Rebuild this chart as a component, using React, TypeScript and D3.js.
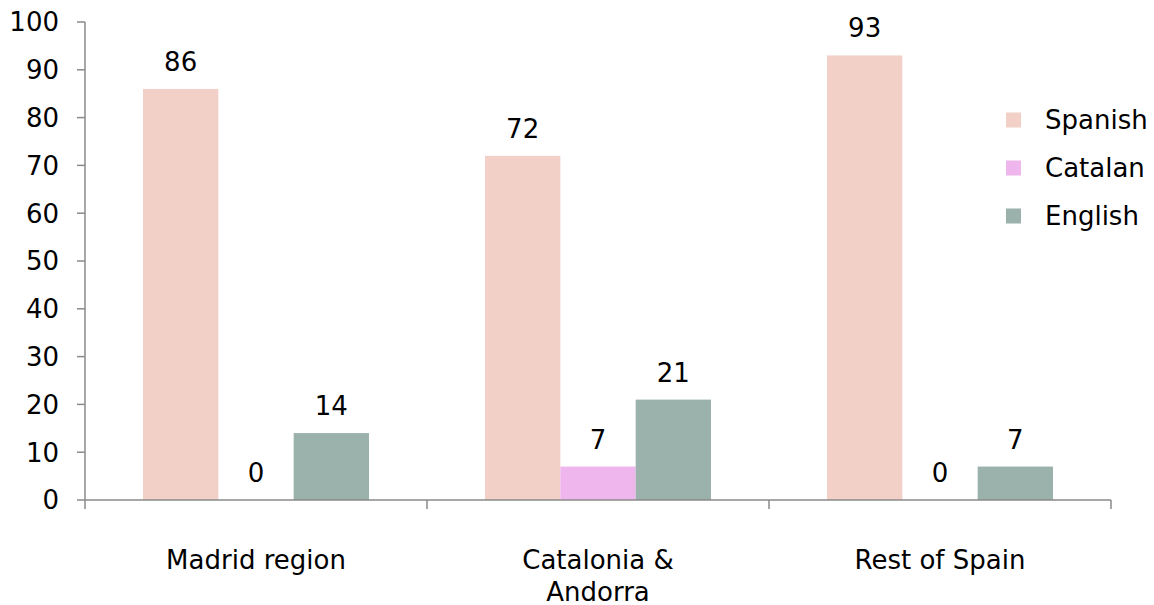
import React from "react";
import * as d3 from "d3";

const categories = ["Madrid region", "Catalonia & Andorra", "Rest of Spain"];
const categoryLines = [["Madrid region"], ["Catalonia &", "Andorra"], ["Rest of Spain"]];
const seriesNames = ["Spanish", "Catalan", "English"];
const seriesColors = ["#F2D0C8", "#EEB6EC", "#9BB1AC"];
const spanish = [86, 72, 93];
const catalan = [0, 7, 0];
const english = [14, 21, 7];
const yTicks = [0, 10, 20, 30, 40, 50, 60, 70, 80, 90, 100];

const W = 1154, H = 605;
const left = 85, right = 1111, top = 22, bottom = 500;
const font = "Verdana, 'DejaVu Sans', sans-serif";

export default function App() {
  const series = [spanish, catalan, english];
  const x0 = d3.scaleBand<string>().domain(categories).range([left, right]).paddingInner(0).paddingOuter(0);
  const bw = x0.bandwidth();
  const x1 = d3.scaleBand<string>().domain(seriesNames).range([58, bw - 58]).padding(0);
  const y = d3.scaleLinear().domain([0, 100]).range([bottom, top]);
  const axisColor = "#8a8a8a";
  const fs = 26;
  const xTickPositions = [...categories.map((c) => x0(c) as number), right];

  return (
    <svg width={W} height={H} style={{ position: "absolute", left: 0, top: 0, background: "#fff" }} fontFamily={font}>
      {categories.map((c, ci) =>
        seriesNames.map((s, si) => {
          const v = series[si][ci];
          const bx = (x0(c) as number) + (x1(s) as number);
          return (
            <g key={c + s}>
              {v > 0 && (
                <rect x={bx} y={y(v)} width={x1.bandwidth()} height={bottom - y(v)} fill={seriesColors[si]} />
              )}
              <text x={bx + x1.bandwidth() / 2} y={y(v) - 18} textAnchor="middle" fontSize={fs} fill="#000">
                {v}
              </text>
            </g>
          );
        })
      )}
      <line x1={left} x2={left} y1={top} y2={bottom} stroke={axisColor} strokeWidth={1.5} />
      {yTicks.map((t) => (
        <g key={t}>
          <line x1={left - 8} x2={left} y1={y(t)} y2={y(t)} stroke={axisColor} strokeWidth={1.5} />
          <text x={59} y={y(t)} dy="0.36em" textAnchor="end" fontSize={fs} fill="#000">
            {t}
          </text>
        </g>
      ))}
      <line x1={left} x2={right} y1={bottom} y2={bottom} stroke={axisColor} strokeWidth={1.5} />
      {xTickPositions.map((p, i) => (
        <line key={i} x1={p} x2={p} y1={bottom} y2={bottom + 9} stroke={axisColor} strokeWidth={1.5} />
      ))}
      {categories.map((c, ci) => (
        <text key={c} x={(x0(c) as number) + bw / 2} y={569} textAnchor="middle" fontSize={fs} fill="#000">
          {categoryLines[ci].map((line, li) => (
            <tspan key={li} x={(x0(c) as number) + bw / 2} dy={li === 0 ? 0 : 32}>
              {line}
            </tspan>
          ))}
        </text>
      ))}
      {seriesNames.map((s, si) => (
        <g key={s} transform={`translate(1006, ${120 + si * 48})`}>
          <rect x={0} y={-7.5} width={15} height={15} fill={seriesColors[si]} />
          <text x={39} y={0} dy="0.36em" fontSize={fs} fill="#000">
            {s}
          </text>
        </g>
      ))}
    </svg>
  );
}
